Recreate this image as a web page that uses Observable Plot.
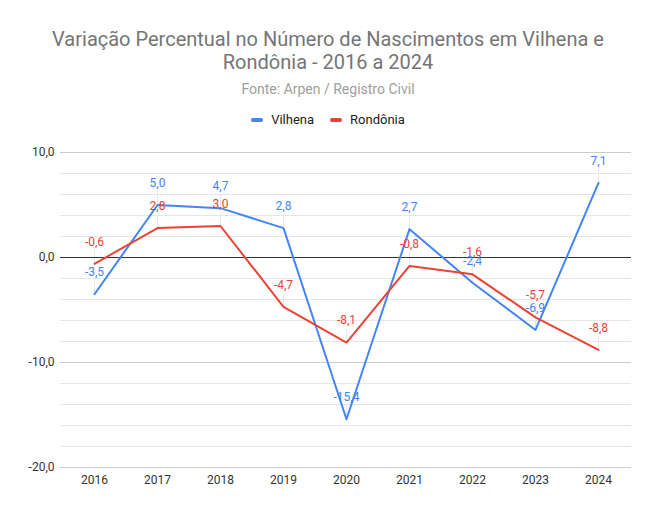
<!DOCTYPE html>
<html><head><meta charset="utf-8">
<script src="https://cdn.jsdelivr.net/npm/d3@7"></script>
<script src="https://cdn.jsdelivr.net/npm/@observablehq/plot@0.6"></script>
<style>
body{margin:0;background:#fff;font-family:Roboto,Arial,sans-serif;}
#wrap{position:relative;width:656px;height:513px;overflow:hidden;}
#title{position:absolute;top:28px;left:0;width:656px;text-align:center;font-size:20px;line-height:23px;color:#757575;}
#sub{position:absolute;top:80px;left:0;width:656px;text-align:center;font-size:14px;line-height:18px;color:#9e9e9e;}
#legend{position:absolute;top:111px;left:0;width:656px;text-align:center;font-size:13px;line-height:17px;color:#222;}
.sw{display:inline-block;width:12px;height:4px;border-radius:2px;vertical-align:middle;margin-right:8px;position:relative;top:-1px;}
.it{display:inline-block;margin:0 8px;}
#chart{position:absolute;top:140px;left:0;}
</style></head>
<body><div id="wrap">
<div id="title">Variação Percentual no Número de Nascimentos em Vilhena e<br>Rondônia - 2016 a 2024</div>
<div id="sub">Fonte: Arpen / Registro Civil</div>
<div id="legend"></div>
<div id="chart"></div>
</div>
<script>
const years = ["2016","2017","2018","2019","2020","2021","2022","2023","2024"];
const vilhena = [-3.5, 5.0, 4.7, 2.8, -15.4, 2.7, -2.4, -6.9, 7.1];
const rondonia = [-0.6, 2.8, 3.0, -4.7, -8.1, -0.8, -1.6, -5.7, -8.8];
const seriesNames = ["Vilhena", "Rondônia"];
const seriesColors = ["#4285F4", "#EA4335"];
const yTicks = [-20, -10, 0, 10];
const yMinor = [-18,-16,-14,-12,-8,-6,-4,-2,2,4,6,8];

const fmt = v => v.toFixed(1).replace(".", ",");
const data = [];
years.forEach((y,i)=>{
  data.push({year:y, v:vilhena[i], s:seriesNames[0]});
  data.push({year:y, v:rondonia[i], s:seriesNames[1]});
});

document.getElementById("legend").innerHTML = seriesNames.map((n,i)=>
  `<span class="it"><span class="sw" style="background:${seriesColors[i]}"></span>${n}</span>`).join("");

const plot = Plot.plot({
  width: 656,
  height: 373,
  marginTop: 12,
  marginBottom: 46,
  marginLeft: 60,
  marginRight: 25,
  style: {fontFamily: "Roboto, Arial, sans-serif", fontSize: "12px", color: "#444"},
  x: {type: "point", domain: years, padding: 0.5, label: null, tickSize: 0, tickPadding: 8},
  y: {domain: [-20, 10], ticks: yTicks, tickFormat: fmt, label: null, tickSize: 0, tickPadding: 6},
  color: {domain: seriesNames, range: seriesColors},
  marks: [
    Plot.ruleY(yMinor, {stroke: "#e6e6e6", strokeWidth: 1}),
    Plot.ruleY(yTicks.filter(t=>t!==0), {stroke: "#cccccc", strokeWidth: 1}),
    Plot.ruleX(data, {x: "year", y1: "v", y2: d => d.v + 1.3, stroke: "#e8e8e8", strokeWidth: 1}),
    Plot.ruleY([0], {stroke: "#333", strokeWidth: 1}),
    Plot.line(data.filter(d=>d.s===seriesNames[0]), {x: "year", y: "v", stroke: seriesColors[0], strokeWidth: 2}),
    Plot.line(data.filter(d=>d.s===seriesNames[1]), {x: "year", y: "v", stroke: seriesColors[1], strokeWidth: 2}),
    Plot.text(data, {x: "year", y: "v", text: d => fmt(d.v), fill: "s", dy: -22, fontSize: 12}),
    Plot.axisY({ticks: yTicks, tickFormat: fmt, tickSize: 0, tickPadding: 6, fill: "#333", label: null}),
    Plot.axisX({tickSize: 0, tickPadding: 8, fill: "#333", label: null})
  ]
});
document.getElementById("chart").appendChild(plot);
</script>
</body></html>
